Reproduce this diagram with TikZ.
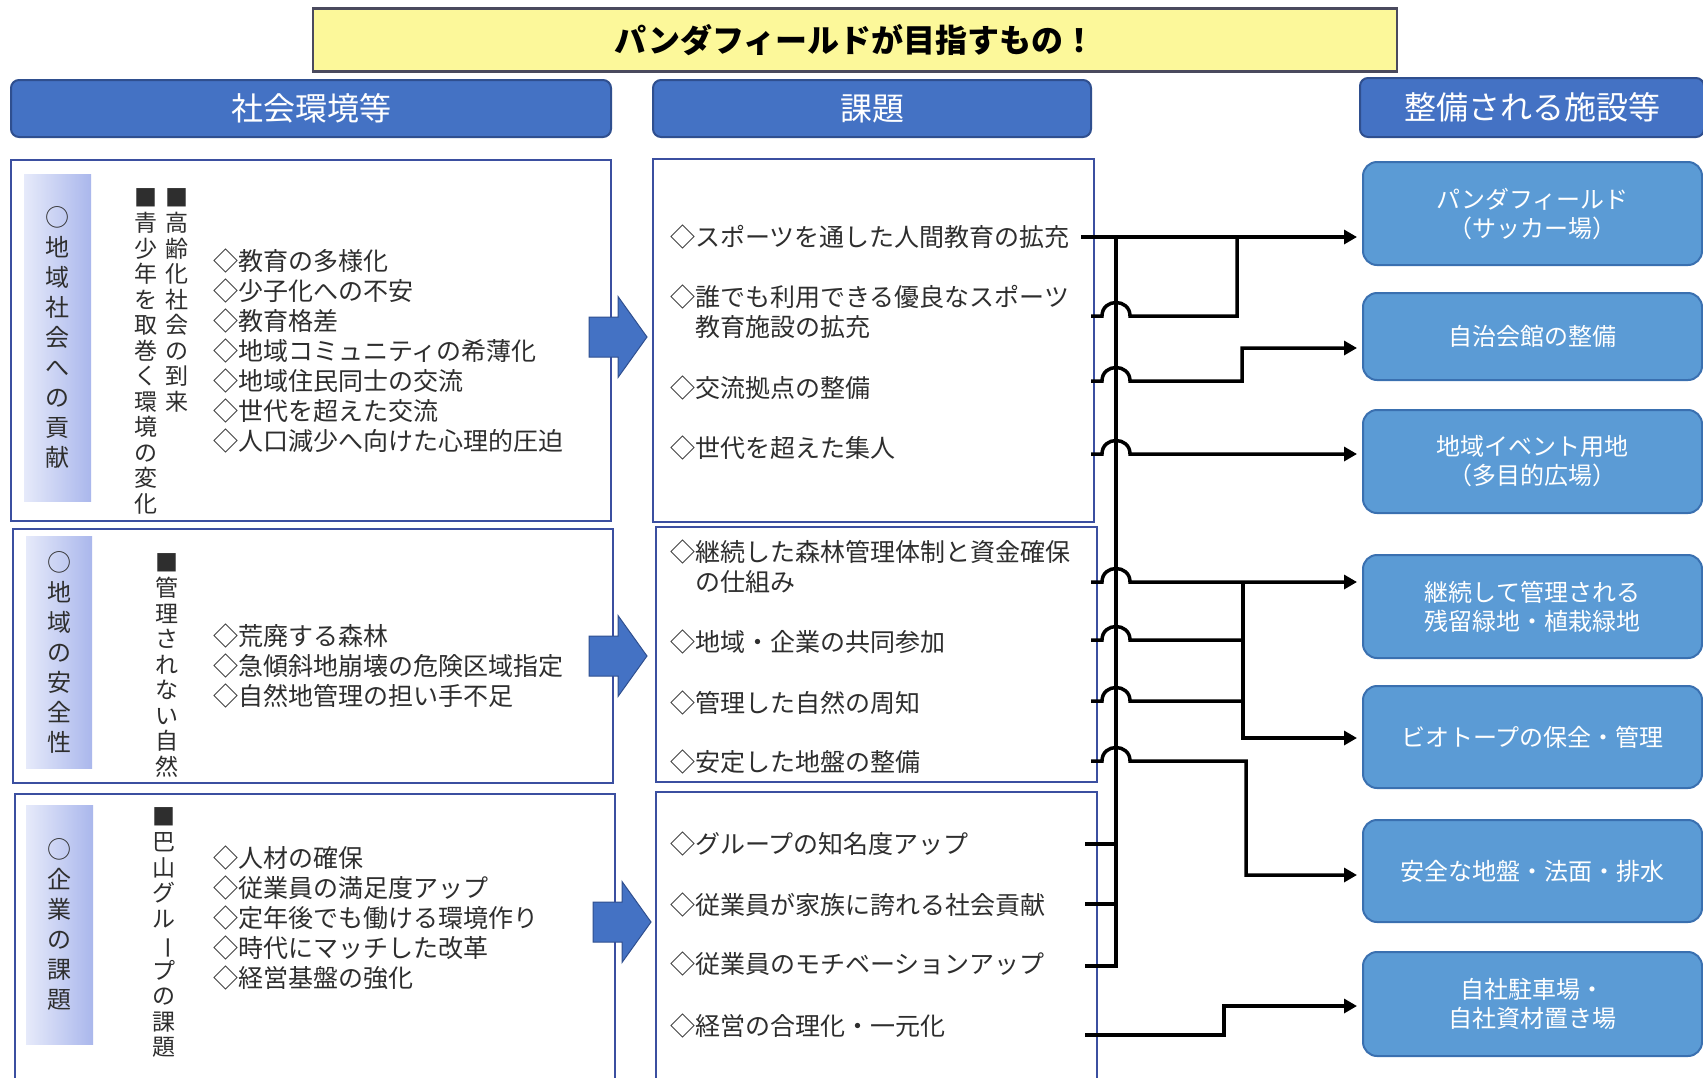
\documentclass[tikz,border=0pt]{standalone}
\usepackage{fontspec}
\setmainfont{Noto Sans CJK JP}
\usetikzlibrary{arrows.meta}
\definecolor{hdrblue}{HTML}{4472C4}
\definecolor{hdrborder}{HTML}{2F4F8F}
\definecolor{panelborder}{HTML}{3B4FA0}
\definecolor{facblue}{HTML}{5B9BD5}
\definecolor{facborder}{HTML}{3A70B0}
\definecolor{titleyellow}{HTML}{FCF89A}
\definecolor{titleborder}{HTML}{4A4A5E}
\definecolor{txtgray}{HTML}{2E2E2E}
\definecolor{stripL}{HTML}{E6EAFA}
\definecolor{stripR}{HTML}{AAB7EC}
\tikzset{
  conn/.style={line width=3.5pt, black},
  tipped/.style={-{Triangle[length=13pt,width=14pt]}, shorten >=5pt},
  titlebox/.style={draw=titleborder, line width=2.5pt, fill=titleyellow, inner sep=0pt,
    font=\fontsize{32}{36}\selectfont\bfseries, text=black},
  hdr/.style={draw=hdrborder, line width=2pt, fill=hdrblue, rounded corners=8pt, text=white,
    font=\fontsize{32}{36}\selectfont, inner sep=0pt},
  panel/.style={draw=panelborder, line width=1.5pt, fill=white, inner sep=0pt},
  strip/.style={left color=stripL, right color=stripR, draw=none, inner sep=0pt,
    align=center, text=txtgray, font=\fontsize{24}{30}\selectfont},
  vtext/.style={align=center, inner sep=0pt, text=txtgray, font=\fontsize{23}{25.5}\selectfont},
  listtext/.style={align=left, anchor=west, inner sep=0pt, text=txtgray, font=\fontsize{25}{30}\selectfont},
  fac/.style={draw=facborder, line width=2pt, fill=facblue, rounded corners=14pt, text=white,
    font=\fontsize{24}{29}\selectfont, align=center, minimum width=339pt, inner sep=0pt},
  blockarrow/.style={fill=hdrblue, draw=hdrborder, line width=1pt},
}
\newcommand{\vbar}{\rotatebox[origin=c]{-90}{ー}}
\begin{document}
\begin{tikzpicture}[x=1pt,y=-1pt]
\useasboundingbox (0,0) rectangle (1703,1077);
\clip (0,0) rectangle (1703,1077);
\fill[white] (0,0) rectangle (1703,1077);

% title and headers
\node[titlebox, minimum width=1084pt, minimum height=63pt] (title) at (855,40) {パンダフィールドが目指すもの！};
\node[hdr, minimum width=600pt, minimum height=57pt] (h1) at (311,108.5) {社会環境等};
\node[hdr, minimum width=438pt, minimum height=57pt] (h2) at (872,108.5) {課題};
\node[hdr, minimum width=344pt, minimum height=59pt] (h3) at (1532,107.5) {整備される施設等};

% left panels
\node[panel, minimum width=600pt, minimum height=361pt] (L1) at (311,340.5) {};
\node[panel, minimum width=600pt, minimum height=254pt] (L2) at (313,656) {};
\node[panel, minimum width=600pt, minimum height=300pt] (L3) at (315,944) {};
% middle panels
\node[panel, minimum width=441pt, minimum height=363pt] (M1) at (873.5,340.5) {};
\node[panel, minimum width=441pt, minimum height=255pt] (M2) at (876.5,654.5) {};
\node[panel, minimum width=441pt, minimum height=300pt] (M3) at (876.5,942) {};

% side strips
\node[strip, minimum width=67pt, minimum height=327pt] (S1) at (57.5,337.5) {○\\地\\域\\社\\会\\へ\\の\\貢\\献};
\node[strip, minimum width=66pt, minimum height=232pt] (S2) at (59,652) {○\\地\\域\\の\\安\\全\\性};
\node[strip, minimum width=67pt, minimum height=239pt] (S3) at (59.5,925) {○\\企\\業\\の\\課\\題};

% vertical headings
\node[vtext] (V1a) at (177,300) {■\\高\\齢\\化\\社\\会\\の\\到\\来};
\node[vtext] (V1b) at (146,351) {■\\青\\少\\年\\を\\取\\巻\\く\\環\\境\\の\\変\\化};
\node[vtext] (V2) at (167,665) {■\\管\\理\\さ\\れ\\な\\い\\自\\然};
\node[vtext] (V3) at (164,932.5) {■\\巴\\山\\グ\\ル\\\vbar\\プ\\の\\課\\題};

% lists
\node[listtext] (T1) at (213,351) {◇教育の多様化\\◇少子化への不安\\◇教育格差\\◇地域コミュニティの希薄化\\◇地域住民同士の交流\\◇世代を超えた交流\\◇人口減少へ向けた心理的圧迫};
\node[listtext] (T2) at (213,665.5) {◇荒廃する森林\\◇急傾斜地崩壊の危険区域指定\\◇自然地管理の担い手不足};
\node[listtext] (T3) at (213,918) {◇人材の確保\\◇従業員の満足度アップ\\◇定年後でも働ける環境作り\\◇時代にマッチした改革\\◇経営基盤の強化};

% block arrows
\foreach \cy/\dx [count=\i] in {337/0,656/0,922/4}{
  \path[blockarrow] (589+\dx,\cy-20) -- (618+\dx,\cy-20) -- (618+\dx,\cy-40.5) -- (647+\dx,\cy)
    -- (618+\dx,\cy+40.5) -- (618+\dx,\cy+20) -- (589+\dx,\cy+20) -- cycle;
}

% middle items
\node[listtext] (m11) at (670,237) {◇スポーツを通した人間教育の拡充};
\node[listtext] (m12) at (670,312) {◇誰でも利用できる優良なスポーツ\\\hspace*{1em}教育施設の拡充};
\node[listtext] (m13) at (670,388) {◇交流拠点の整備};
\node[listtext] (m14) at (670,448) {◇世代を超えた集人};
\node[listtext] (m21) at (670,567) {◇継続した森林管理体制と資金確保\\\hspace*{1em}の仕組み};
\node[listtext] (m22) at (670,642) {◇地域・企業の共同参加};
\node[listtext] (m23) at (670,703) {◇管理した自然の周知};
\node[listtext] (m24) at (670,762) {◇安定した地盤の整備};
\node[listtext] (m31) at (670,844) {◇グループの知名度アップ};
\node[listtext] (m32) at (670,905) {◇従業員が家族に誇れる社会貢献};
\node[listtext] (m33) at (670,964) {◇従業員のモチベーションアップ};
\node[listtext] (m34) at (670,1026) {◇経営の合理化・一元化};

% facility boxes
\node[fac, minimum height=103pt] (R1) at (1532.5,213.5) {パンダフィールド\\（サッカー場）};
\node[fac, minimum height=87pt] (R2) at (1532.5,336.5) {自治会館の整備};
\node[fac, minimum height=103pt] (R3) at (1532.5,461.5) {地域イベント用地\\（多目的広場）};
\node[fac, minimum height=103pt] (R4) at (1532.5,606.5) {継続して管理される\\残留緑地・植栽緑地};
\node[fac, minimum height=102pt] (R5) at (1532.5,737) {ビオトープの保全・管理};
\node[fac, minimum height=102pt] (R6) at (1532.5,871) {安全な地盤・法面・排水};
\node[fac, minimum height=104pt] (R7) at (1532.5,1004) {自社駐車場・\\自社資材置き場};

% connector coordinates
\coordinate (c1) at (1081,237);
\coordinate (c2) at (1091,316);
\coordinate (c3) at (1091,381);
\coordinate (c4) at (1091,454);
\coordinate (d1) at (1091,582);
\coordinate (d2) at (1091,640);
\coordinate (d3) at (1091,701);
\coordinate (d4) at (1091,761);
\coordinate (e1) at (1085,844);
\coordinate (e2) at (1085,904);
\coordinate (e3) at (1085,966);
\coordinate (e4) at (1085,1035);
\coordinate (bus) at (1116,237);
\coordinate (j1) at (1237,237);
\coordinate (k2) at (1242,348);
\coordinate (m2) at (1243,738);
\coordinate (m3) at (1246,875);
\coordinate (m4) at (1224,1006);

% connectors
\draw[conn] (bus) -- (bus |- e3) -- (e3);
\draw[conn] (e1) -- (bus |- e1);
\draw[conn] (e2) -- (bus |- e2);
\draw[conn,tipped] (c1) -- (R1.west |- c1);
\draw[conn] (c2) -- ++(11,0) .. controls +(0,-18) and +(0,-18) .. ++(28,0) -- (j1 |- c2) -- (j1);
\draw[conn,tipped] (c3) -- ++(11,0) .. controls +(0,-18) and +(0,-18) .. ++(28,0) -- (k2 |- c3) -- (k2) -- (R2.west |- k2);
\draw[conn,tipped] (c4) -- ++(11,0) .. controls +(0,-18) and +(0,-18) .. ++(28,0) -- (R3.west |- c4);
\draw[conn,tipped] (d1) -- ++(11,0) .. controls +(0,-18) and +(0,-18) .. ++(28,0) -- (R4.west |- d1);
\draw[conn] (d2) -- ++(11,0) .. controls +(0,-18) and +(0,-18) .. ++(28,0) -- (m2 |- d2);
\draw[conn] (d3) -- ++(11,0) .. controls +(0,-18) and +(0,-18) .. ++(28,0) -- (m2 |- d3);
\draw[conn,tipped] (m2 |- d1) -- (m2) -- (R5.west |- m2);
\draw[conn,tipped] (d4) -- ++(11,0) .. controls +(0,-18) and +(0,-18) .. ++(28,0) -- (m3 |- d4) -- (m3) -- (R6.west |- m3);
\draw[conn,tipped] (e4) -- (m4 |- e4) -- (m4) -- (R7.west |- m4);
\end{tikzpicture}
\end{document}
